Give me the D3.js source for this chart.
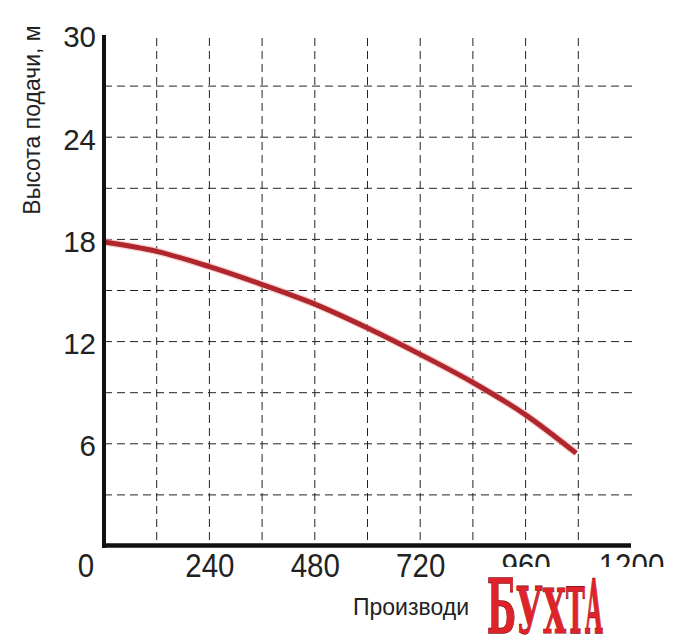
<!DOCTYPE html>
<html>
<head>
<meta charset="utf-8">
<script src="https://cdn.jsdelivr.net/npm/d3@7"></script>
<style>
  html, body { margin: 0; padding: 0; background: #fff; }
  svg { display: block; }
</style>
</head>
<body>
<svg id="chart" width="692" height="640"></svg>
<script>
// ---- data ----
const flow = [0, 120, 240, 360, 480, 600, 720, 840, 960, 1075];
const head = [17.85, 17.3, 16.4, 15.35, 14.2, 12.8, 11.25, 9.6, 7.7, 5.45];
const xTickLabels = [0, 240, 480, 720, 960, 1200];
const yTickLabels = [6, 12, 18, 24, 30];
const xGrid = [120, 240, 360, 480, 600, 720, 840, 960, 1080];
const yGrid = [3, 6, 9, 12, 15, 18, 21, 24, 27];
const yTitle = "Высота подачи, м";
const xTitle = "Производи";
const watermark = ["Б", "У", "Х", "Т", "А"];

// ---- layout ----
const svg = d3.select("#chart");
const x0 = 104, x1 = 631, yb = 546, yt = 35;
const x = d3.scaleLinear().domain([0, 1200]).range([x0, x1]);
const y = d3.scaleLinear().domain([0, 30]).range([yb, yt]);

const defs = svg.append("defs");
defs.append("clipPath").attr("id", "labclip")
  .append("rect").attr("x", 0).attr("y", 0).attr("width", 692).attr("height", 567);

// grid
svg.append("g").selectAll("line").data(yGrid).join("line")
  .attr("x1", x0).attr("x2", x(1200) + 1)
  .attr("y1", d => y(d)).attr("y2", d => y(d))
  .attr("stroke", "#222").attr("stroke-width", 1)
  .attr("stroke-dasharray", "8,5");
svg.append("g").selectAll("line").data(xGrid).join("line")
  .attr("x1", d => x(d)).attr("x2", d => x(d))
  .attr("y1", y(30) + 3).attr("y2", yb)
  .attr("stroke", "#222").attr("stroke-width", 1)
  .attr("stroke-dasharray", "8,5");

// curve
const pts = flow.map((f, i) => [f, head[i]]);
const line = d3.line().x(d => x(d[0])).y(d => y(d[1])).curve(d3.curveMonotoneX);
svg.append("path").datum(pts)
  .attr("d", line).attr("fill", "none")
  .attr("stroke", "#f3b5b5").attr("stroke-width", 7.5).attr("opacity", 0.6);
svg.append("path").datum(pts)
  .attr("d", line).attr("fill", "none")
  .attr("stroke", "#b0262d").attr("stroke-width", 5);

// axes lines
svg.append("line").attr("x1", x0).attr("x2", x0).attr("y1", yt).attr("y2", yb + 2)
  .attr("stroke", "#111").attr("stroke-width", 4);
svg.append("line").attr("x1", x0 - 2).attr("x2", x(1200)).attr("y1", yb - 0.5).attr("y2", yb - 0.5)
  .attr("stroke", "#111").attr("stroke-width", 4.5);

// y axis labels
const yAxis = svg.append("g").attr("transform", `translate(${x0},0)`)
  .call(d3.axisLeft(y).tickValues(yTickLabels).tickSize(0).tickPadding(8).tickFormat(d3.format("d")));
yAxis.select(".domain").remove();
yAxis.selectAll("text").attr("font-family", "Liberation Sans, Arial, sans-serif")
  .attr("font-size", 29.5).attr("fill", "#222").attr("dy", "0.4em");

// x axis labels
const xAxis = svg.append("g").attr("transform", `translate(0,${yb})`)
  .call(d3.axisBottom(x).tickValues(xTickLabels).tickSize(0).tickPadding(7).tickFormat(d3.format("d")));
xAxis.select(".domain").remove();
xAxis.selectAll("text").attr("font-family", "Liberation Sans, Arial, sans-serif")
  .attr("font-size", 29.5).attr("fill", "#222")
  .attr("transform", "scale(1,1.12)");
xAxis.selectAll(".tick").filter(d => d === 0)
  .attr("transform", `translate(${x(0) - 18},0)`);
// last labels are cut off by the watermark block
xAxis.selectAll(".tick").filter(d => d >= 960).select("text")
  .attr("clip-path", null);
const xClip = defs.append("clipPath").attr("id", "xcut");
xClip.append("rect").attr("x", -40).attr("y", -20).attr("width", 80).attr("height", 20 + 567 - yb);
xAxis.selectAll(".tick").filter(d => d >= 960).attr("clip-path", "url(#xcut)");

// y title
svg.append("text")
  .attr("transform", "translate(40,120) rotate(-90)")
  .attr("text-anchor", "middle")
  .attr("font-family", "Liberation Sans, Arial, sans-serif")
  .attr("font-size", 23).attr("fill", "#222")
  .text(yTitle);

// x title
svg.append("text")
  .attr("x", 353).attr("y", 615)
  .attr("font-family", "Liberation Sans, Arial, sans-serif")
  .attr("font-size", 23).attr("fill", "#222")
  .text(xTitle);

// watermark
const wm = svg.append("g");
const wx = [487, 516, 543, 566, 585];
const ww = [29, 27, 23, 19, 18];
const wh = [54, 47, 45, 47, 54];
watermark.forEach((ch, i) => {
  const t = wm.append("text")
    .attr("font-family", "DejaVu Serif, serif").attr("font-weight", "bold")
    .attr("font-size", 40)
    .attr("fill", "#e0232a").attr("stroke", "#7a0d10").attr("stroke-width", 0.8)
    .attr("paint-order", "stroke")
    .text(ch);
  const bb = t.node().getBBox();
  const sx = ww[i] / bb.width, sy = wh[i] / (40 * 0.73);
  t.attr("transform", `translate(${wx[i]},633) scale(${sx},${sy}) translate(${-bb.x},0)`);
});
</script>
</body>
</html>
